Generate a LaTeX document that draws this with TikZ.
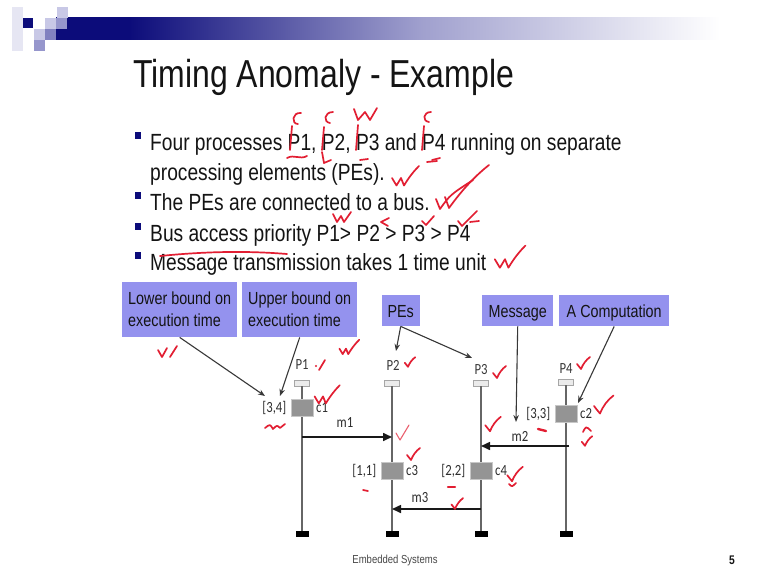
\documentclass[tikz,border=0pt]{standalone}
\usepackage{fontspec}
\setmainfont{Liberation Sans}[FakeStretch=0.82]
\newfontfamily\diagfont{Carlito}[FakeStretch=0.82]
\usetikzlibrary{arrows.meta,positioning}

\definecolor{navy}{RGB}{12,12,122}
\definecolor{navylight}{RGB}{160,160,206}
\definecolor{sqlight}{RGB}{200,200,230}
\definecolor{sqmid}{RGB}{150,150,204}
\definecolor{sqfaint}{RGB}{230,230,243}
\definecolor{calloutfill}{RGB}{148,146,238}
\definecolor{inkred}{RGB}{226,30,50}
\definecolor{textdark}{RGB}{20,20,20}

% header bar: solid navy on the left, fading out to white
% (TikZ maps the filled path onto the 25bp..75bp part of the shading)
\pgfdeclarehorizontalshading{hdrbar}{100bp}{color(0bp)=(navy); color(25bp)=(navy); color(30.5bp)=(navy); color(52.5bp)=(navylight); color(75bp)=(white); color(100bp)=(white)}

\begin{document}
\begin{tikzpicture}[x=1pt,y=-1pt,
  titletext/.style={anchor=base west, inner sep=0, text=textdark, font=\fontsize{39}{39}\selectfont},
  bullettext/.style={anchor=base west, inner sep=0, text=textdark, font=\fontsize{23.4}{30}\selectfont},
  bulletsq/.style={fill=navy, minimum width=6, minimum height=7, inner sep=0},
  callout/.style={fill=calloutfill, anchor=north west, inner sep=0, text=textdark,
                  font=\fontsize{17.5}{22}\selectfont},
  onerow/.style={text height=12.6pt, text depth=0pt},
  plabel/.style={inner sep=0, text=black!78, font=\diagfont\fontsize{15.5}{15}\selectfont},
  clabel/.style={inner sep=0, text=black!82, font=\diagfont\fontsize{15.5}{15}\selectfont},
  pehead/.style={fill=black!8, draw=black!35, line width=0.8, minimum width=15, minimum height=6, inner sep=0},
  pefoot/.style={fill=black, minimum width=13, minimum height=6, inner sep=0},
  compblock/.style={fill=black!42, draw=black!22, line width=1, minimum width=22, minimum height=17, inner sep=0},
  procline/.style={draw=black!60, line width=1.7},
  msgarrow/.style={draw=black!90, line width=1.6, -{Triangle[length=9pt,width=8pt]}},
  callarrow/.style={draw=black!78, line width=1.1, -{Stealth[length=7pt,width=5.5pt]}},
  ink/.style={draw=inkred, line width=1.7, line cap=round, line join=round},
  thinink/.style={draw=inkred!70, line width=1.1, line cap=round, line join=round},
  chk/.pic={\draw[ink] (-4,-4) .. controls (-2.5,-2) .. (0,1) .. controls (2,-4) and (5,-8) .. (9,-11);},
  dchk/.pic={\draw[ink] (-6,-4) -- (-3,1) -- (0,-4) .. controls (1,-2) .. (2,1) .. controls (5,-4) and (8,-8) .. (12,-12);}
]
\useasboundingbox (0,0) rectangle (767,575);
\fill[white] (0,0) rectangle (767,575);

% ---------- slide header ----------
\fill[sqfaint] (12,7) rectangle (23,51);
\shade[shading=hdrbar] (56,18) rectangle (720,40);
\fill[sqlight] (57,7) rectangle (68,18);
\fill[navy] (23,18) rectangle (33,28);
\fill[sqlight] (45,18) rectangle (56,29);
\fill[sqmid] (56,18) rectangle (67,29);
\fill[sqlight] (34,29) rectangle (45,40);
\fill[sqmid!85!navy] (45,29) rectangle (56,40);
\fill[sqmid] (34,40) rectangle (45,51);

\node[titletext] (title) at (133,88) {Timing Anomaly - Example};

% ---------- bullets ----------
\node[bulletsq] (bq1) at (138,135) {};
\node[bullettext] (bl1a) at (150,150) {Four processes P1, P2, P3 and P4 running on separate};
\node[bullettext] (bl1b) at (150,180) {processing elements (PEs).};
\node[bulletsq] (bq2) at (138,195) {};
\node[bullettext] (bl2) at (150,210) {The PEs are connected to a bus.};
\node[bulletsq] (bq3) at (138,226) {};
\node[bullettext] (bl3) at (150,241) {Bus access priority P1> P2 > P3 > P4};
\node[bulletsq] (bq4) at (138,255) {};
\node[bullettext] (bl4) at (150,270) {Message transmission takes 1 time unit};

% ---------- callout boxes ----------
\node[callout, minimum width=115, minimum height=55, align=left] (lb) at (122,282) {Lower bound on\\execution time};
\node[callout, minimum width=115, minimum height=55, align=left] (ub) at (242,282) {Upper bound on\\execution time};
\node[callout, onerow, minimum width=38, minimum height=31] (pes) at (381.5,295) {PEs};
\node[callout, onerow, minimum width=71, minimum height=31] (msg) at (482,295) {Message};
\node[callout, onerow, minimum width=110, minimum height=31] (comp) at (559,295) {A Computation};

% ---------- processing elements ----------
\node[plabel] (p1) at (302,365) {P1};
\node[plabel] (p2) at (393,365) {P2};
\node[plabel] (p3) at (481,370) {P3};
\node[plabel] (p4) at (566,369) {P4};

\node[pehead] (h1) at (302,383) {};
\node[pehead] (h2) at (392,383) {};
\node[pehead] (h3) at (481,383) {};
\node[pehead] (h4) at (566,382) {};

\node[pefoot] (f1) at (302,534) {};
\node[pefoot] (f2) at (392,534) {};
\node[pefoot] (f3) at (481,534) {};
\node[pefoot] (f4) at (566,534) {};

\draw[procline] (h1.south) -- (f1.north);
\draw[procline] (h2.south) -- (f2.north);
\draw[procline] (h3.south) -- (f3.north);
\draw[procline] (h4.south) -- (f4.north);

% ---------- computations ----------
\node[compblock] (c1) at (302,408) {};
\node[compblock] (c2) at (566,414) {};
\node[compblock] (c3) at (392,471) {};
\node[compblock] (c4) at (481,471) {};

\node[clabel, left=4pt of c1] (r1) {[3,4]};
\node[clabel, right=2.5pt of c1] (n1) {c1};
\node[clabel, left=4pt of c2] (r2) {[3,3]};
\node[clabel, right=2.5pt of c2] (n2) {c2};
\node[clabel, left=4pt of c3] (r3) {[1,1]};
\node[clabel, right=2.5pt of c3] (n3) {c3};
\node[clabel, left=4pt of c4] (r4) {[2,2]};
\node[clabel, right=2.5pt of c4] (n4) {c4};

% ---------- messages on the bus ----------
\coordinate (m1s) at (302,437);
\coordinate (m1e) at (392,437);
\coordinate (m2s) at (569,446);
\coordinate (m2e) at (481,446);
\coordinate (m3s) at (481,509);
\coordinate (m3e) at (392,509);
\draw[msgarrow] (m1s) -- (m1e);
\draw[msgarrow] (m2s) -- (m2e);
\draw[msgarrow] (m3s) -- (m3e);
\node[clabel] (m1) at (345,423) {m1};
\node[clabel] (m2) at (520,436) {m2};
\node[clabel] (m3) at (420,498) {m3};

% ---------- callout pointers ----------
\coordinate (lbtip) at (265,396);
\coordinate (ubtip) at (280,396);
\coordinate (p2tip) at (396,351);
\coordinate (p3tip) at (472,358);
\coordinate (m2tip) at (516,422);
\coordinate (c2tip) at (578,403);
\draw[callarrow] (lb.south) -- (lbtip);
\draw[callarrow] (ub.south) -- (ubtip);
\draw[callarrow] (pes.south) -- (p2tip);
\draw[callarrow] (pes.south) -- (p3tip);
\draw[callarrow] (msg.south) -- (m2tip);
\draw[callarrow] (comp.south) -- (c2tip);

% ---------- footer ----------
\node[inner sep=0, text=black!72, font=\fontsize{11.6}{12}\selectfont] (foot) at (395,560) {Embedded Systems};
\node[inner sep=0, text=textdark, font=\bfseries\fontsize{12.5}{12}\selectfont] (pgno) at (732,560) {5};

% ---------- pen annotations ----------
% over the process names in the first bullet
\draw[ink] (301,113) .. controls (292,112) and (291,124) .. (298,124);
\draw[ink] (292,126) -- (290,150);
\draw[ink] (287,158) .. controls (294,154) and (300,160) .. (307,156);
\draw[ink] (333,112) .. controls (324,112) and (323,122) .. (330,123);
\draw[ink] (324,127) -- (322,150);
\draw[ink] (322,152) -- (324,163) -- (331,160);
\draw[ink] (354,109) -- (358,120) -- (365,112) -- (370,120) -- (377,108);
\draw[ink] (358,125) -- (356,150);
\draw[ink] (360,160) -- (368,159);
\draw[ink] (431,112) .. controls (423,112) and (422,121) .. (429,122);
\draw[ink] (424,126) -- (422,150);
\draw[ink] (432,160) -- (440,158);
\pic[scale=1.5] at (401,184) {dchk};
\draw[ink] (427,162) -- (437,161);
\draw[ink] (436,199) -- (440,209) .. controls (450,195) .. (473,180);
\draw[ink] (445,197) -- (449,208) .. controls (462,190) and (475,176) .. (489,165);
\draw[ink] (333,214) -- (337,222) -- (341,216) -- (344,222) -- (351,212);
\draw[ink] (389,218) -- (381,222) -- (388,226);
\draw[ink] (422,221) -- (426,225) -- (434,216);
\draw[ink] (458,221) -- (462,226) -- (477,211);
\draw[ink] (470,222) -- (479,221);
\draw[ink] (160,256) .. controls (210,251) and (250,251) .. (287,254);
\pic[scale=1.7] at (505,266) {dchk};
% on the diagram
\draw[ink] (158,350) -- (162,357) -- (167,348);
\draw[ink] (170,357) -- (177,346);
\fill[inkred] (316,366) circle (1.1);
\draw[ink] (319,370) -- (325,360);
\pic[scale=1.1] at (346,353) {dchk};
\pic[scale=0.8] at (408,366) {chk};
\pic at (497,377) {chk};
\pic at (581,368) {chk};
\pic[scale=1.4] at (323,402) {dchk};
\draw[ink] (265,428) .. controls (270,424) .. (273,429) .. controls (277,425) .. (280,428) -- (285,424);
\draw[thinink] (396,433) -- (400,440) -- (409,425);
\pic at (411,459) {chk};
\draw[ink, line width=2.4] (538,429) -- (546,431);
\pic[scale=1.5] at (600,412) {chk};
\draw[ink] (583,432) .. controls (586,426) .. (591,431);
\pic[scale=0.8] at (585,445) {chk};
\pic[scale=1.2] at (490,430) {chk};
\pic[scale=1.2] at (512,480) {chk};
\draw[ink] (509,484) .. controls (512,487) .. (516,483);
\draw[ink] (363,490) -- (368,491);
\draw[ink, line width=2.2] (448,487) -- (455,487);
\pic[scale=0.9] at (455,508) {chk};
\end{tikzpicture}
\end{document}
